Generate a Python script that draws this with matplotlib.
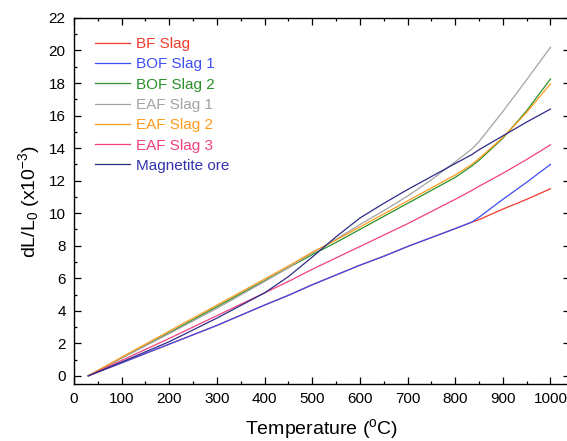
import numpy as np
import matplotlib
matplotlib.use('Agg')
import matplotlib.pyplot as plt
from matplotlib.ticker import MultipleLocator

plt.rcParams['font.family'] = ['Liberation Sans', 'DejaVu Sans']
plt.rcParams['mathtext.default'] = 'regular'

# dilatometer readings, temperature in degC, dL/L0 in 1e-3
temperature = [30, 100, 200, 300, 400, 450, 500, 550, 600, 650, 700, 750, 800, 835, 850, 900, 950, 1000]

bf_slag = [0, 0.8, 1.95, 3.1, 4.35, 4.95, 5.6, 6.2, 6.8, 7.35, 7.95, 8.5, 9.05, 9.45, 9.6, 10.25, 10.85, 11.5]
bof_slag_1 = [0, 0.8, 1.95, 3.1, 4.35, 4.95, 5.6, 6.2, 6.8, 7.35, 7.95, 8.5, 9.05, 9.45, 9.75, 10.85, 11.9, 13.0]
bof_slag_2 = [0, 1.1, 2.65, 4.25, 5.85, 6.65, 7.45, 8.2, 9.0, 9.8, 10.6, 11.4, 12.2, 12.9, 13.25, 14.6, 16.3, 18.25]
eaf_slag_1 = [0, 1.1, 2.6, 4.15, 5.8, 6.65, 7.55, 8.4, 9.3, 10.15, 11.05, 12.05, 13.15, 13.95, 14.4, 16.25, 18.2, 20.2]
eaf_slag_2 = [0, 1.15, 2.75, 4.35, 5.95, 6.75, 7.6, 8.35, 9.15, 9.95, 10.75, 11.55, 12.35, 13.0, 13.35, 14.65, 16.2, 17.95]
eaf_slag_3 = [0, 0.95, 2.3, 3.7, 5.1, 5.8, 6.55, 7.25, 7.95, 8.65, 9.35, 10.1, 10.85, 11.4, 11.65, 12.45, 13.3, 14.2]
magnetite = [0, 0.85, 2.1, 3.55, 5.1, 6.1, 7.3, 8.55, 9.7, 10.6, 11.45, 12.25, 13.05, 13.6, 13.9, 14.75, 15.6, 16.4]

labels = ['BF Slag', 'BOF Slag 1', 'BOF Slag 2', 'EAF Slag 1', 'EAF Slag 2', 'EAF Slag 3', 'Magnetite ore']
series = [bf_slag, bof_slag_1, bof_slag_2, eaf_slag_1, eaf_slag_2, eaf_slag_3, magnetite]
colors = ['#f23a2c', '#3d4ef2', '#2a8f2a', '#a3a3a3', '#ff9a1c', '#f2407f', '#2c2c86']
text_colors = ['#f23a2c', '#3d4ef2', '#2a8f2a', '#a3a3a3', '#ff9a1c', '#f2407f', '#3333aa']


fig = plt.figure(figsize=(5.67, 4.41), dpi=100)
ax = fig.add_axes([0.1305, 0.1293, 0.874, 0.830])

for y, c, lab in zip(series, colors, labels):
    ax.plot(temperature, y, color=c, lw=0.9, label=lab)

ax.set_xlim(0, 1040)
ax.set_ylim(-0.5, 22)
ax.xaxis.set_major_locator(MultipleLocator(100))
ax.xaxis.set_minor_locator(MultipleLocator(50))
ax.yaxis.set_major_locator(MultipleLocator(2))
ax.yaxis.set_minor_locator(MultipleLocator(1))
ax.tick_params(which='both', direction='in', top=True, right=True, labelsize=11, width=0.9)
ax.tick_params(which='major', length=5)
ax.tick_params(which='minor', length=2.5)
ax.tick_params(axis='x', pad=5.5)
ax.tick_params(axis='y', pad=6)
for s in ax.spines.values():
    s.set_linewidth(1.0)

ax.set_xlabel('Temperature ($^{o}$C)', fontsize=14, labelpad=8)
ax.set_ylabel('dL/L$_{0}$ (x10$^{-3}$)', fontsize=14, labelpad=5)

leg = ax.legend(loc='upper left', bbox_to_anchor=(0.015, 0.985), frameon=False,
                fontsize=11, handlelength=2.3, handletextpad=0.4, labelspacing=0.41)
for txt, tc in zip(leg.get_texts(), text_colors):
    txt.set_color(tc)

fig.savefig('out.png', dpi=100)
